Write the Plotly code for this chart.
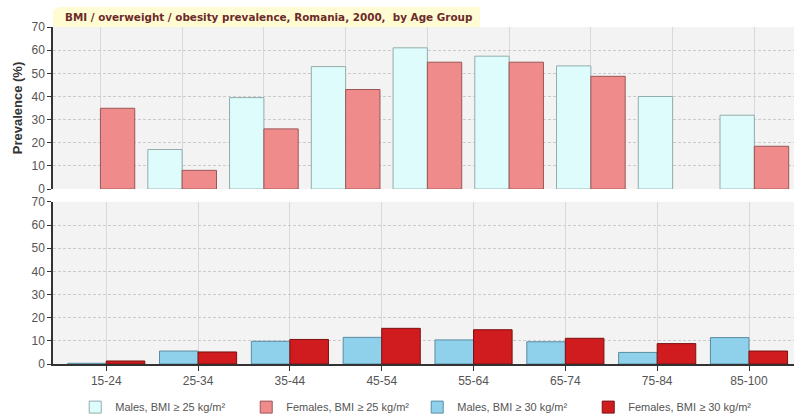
import plotly.graph_objects as go

# ---- data ----
top_groups = ["15-24", "25-34", "35-44", "45-54", "55-64", "65-74", "75-84", "85+", "85-100"]
males_bmi25 = [None, 17.1, 39.5, 52.9, 61.0, 57.4, 53.2, 40.0, 31.9]
females_bmi25 = [34.9, 8.1, 26.0, 43.0, 54.8, 54.8, 48.7, None, 18.5]

age_groups = ["15-24", "25-34", "35-44", "45-54", "55-64", "65-74", "75-84", "85-100"]
males_bmi30 = [0.3, 5.6, 9.8, 11.5, 10.4, 9.6, 5.0, 11.4]
females_bmi30 = [1.3, 5.2, 10.6, 15.4, 14.8, 11.1, 8.8, 5.6]

y_ticks = [0, 10, 20, 30, 40, 50, 60, 70]

title_text = "BMI / overweight / obesity prevalence, Romania, 2000,  by Age Group"

# ---- figure ----
fig = go.Figure()

fig.add_trace(go.Bar(
    x=top_groups, y=males_bmi25, name="Males, BMI ≥ 25 kg/m²",
    marker=dict(color="#dffcfc", line=dict(color="#93acac", width=1)),
    xaxis="x", yaxis="y"))
fig.add_trace(go.Bar(
    x=top_groups, y=females_bmi25, name="Females, BMI ≥ 25 kg/m²",
    marker=dict(color="#f08b8b", line=dict(color="#9a5656", width=1)),
    xaxis="x", yaxis="y"))
fig.add_trace(go.Bar(
    x=age_groups, y=males_bmi30, name="Males, BMI ≥ 30 kg/m²",
    marker=dict(color="#8fd1ea", line=dict(color="#5a8ca2", width=1)),
    xaxis="x2", yaxis="y2"))
fig.add_trace(go.Bar(
    x=age_groups, y=females_bmi30, name="Females, BMI ≥ 30 kg/m²",
    marker=dict(color="#d01b1f", line=dict(color="#7a1212", width=1)),
    xaxis="x2", yaxis="y2"))

yax = dict(range=[0, 70], tickvals=y_ticks, showgrid=True, gridcolor="#cccccc",
           griddash="3px,2px", gridwidth=1, showline=True, linecolor="#333333",
           linewidth=1.5, ticks="outside", ticklen=4, tickcolor="#333333",
           tickfont=dict(family="Liberation Sans, Arial", size=12, color="#555555"),
           zeroline=False, fixedrange=True)

fig.update_layout(
    width=794, height=415,
    margin=dict(l=53, r=0, t=27, b=51),
    paper_bgcolor="white",
    plot_bgcolor="#f3f3f3",
    barmode="group",
    bargap=0.16,
    bargroupgap=0,
    showlegend=True,
    legend=dict(orientation="h", x=0.03, xanchor="left",
                yref="container", y=0.019, yanchor="middle",
                font=dict(family="Liberation Sans, Arial", size=11, color="#555555"),
                itemwidth=30, entrywidth=126, entrywidthmode="pixels",
                traceorder="normal"),
    xaxis=dict(domain=[0, 1], anchor="y", range=[-0.58, 8.485], showticklabels=False,
               showgrid=True, gridcolor="#d9d9d9", gridwidth=1, showline=False,
               ticks="", zeroline=False, fixedrange=True),
    yaxis=dict(domain=[0.519, 1], anchor="x", **yax,
               title=dict(text="<b>Prevalence (%)</b>", standoff=6,
                          font=dict(family="Liberation Sans, Arial", size=13, color="#333333"))),
    xaxis2=dict(domain=[0, 1], anchor="y2", range=[-0.58, 7.49],
                showgrid=True, gridcolor="#d9d9d9", gridwidth=1,
                showline=True, linecolor="#333333", linewidth=1.5,
                ticks="outside", ticklen=5, tickcolor="#333333",
                tickfont=dict(family="Liberation Sans, Arial", size=12, color="#555555"),
                zeroline=False, fixedrange=True),
    yaxis2=dict(domain=[0, 0.481], anchor="x2", **yax),
)

# title box
fig.add_shape(type="path", xref="paper", yref="paper",
              path="M 0,1 L 0,1.04 Q 0,1.0593 0.012,1.0593 L 0.576,1.0593 L 0.576,1 Z",
              fillcolor="#fffbd2", line=dict(width=0), layer="below")
fig.add_annotation(text="<b>" + title_text + "</b>", xref="paper", yref="paper",
                   x=0.014, y=1.0296, xanchor="left", yanchor="middle", showarrow=False,
                   font=dict(family="DejaVu Sans, Verdana", size=10.4, color="#6b2a2a"))

fig.write_html("out.html", config={"displayModeBar": False},
               post_script="document.body.style.margin='0';")
